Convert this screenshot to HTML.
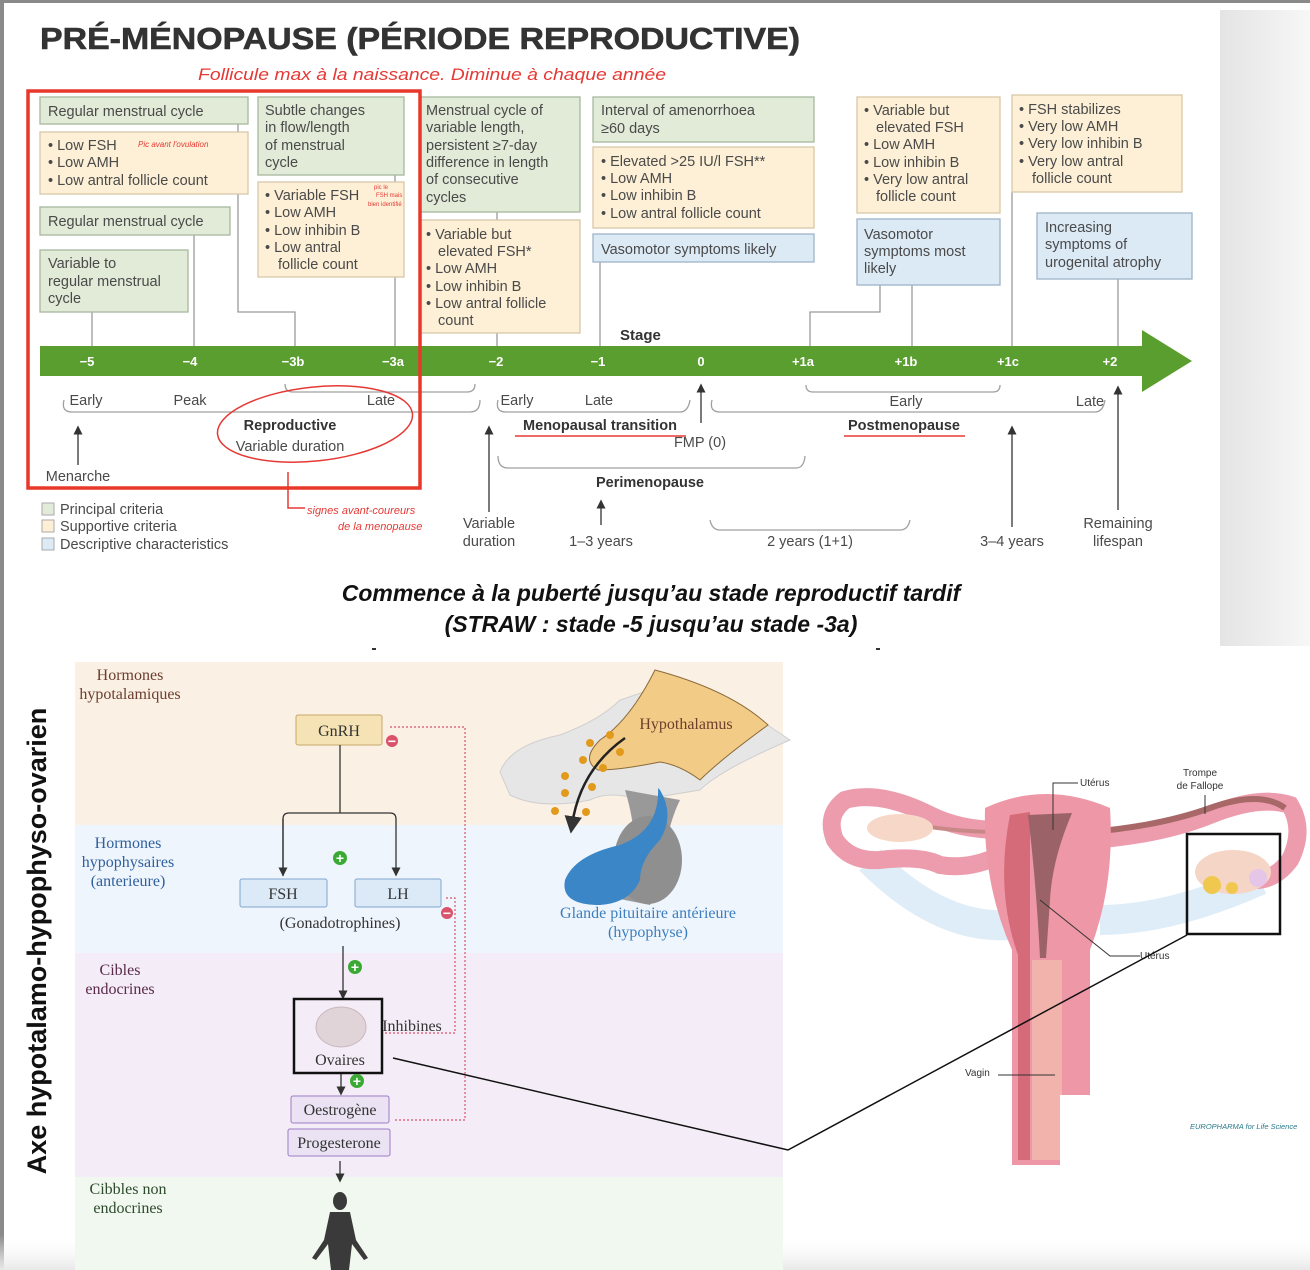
<!DOCTYPE html>
<html><head><meta charset="utf-8"><style>
html,body{margin:0;padding:0;background:#fff;}
svg{display:block;}
.s{font-family:"Liberation Sans",sans-serif;}
.bt{font-family:"Liberation Sans",sans-serif;font-size:14.5px;fill:#4a4a4a;}
.sr{font-family:"Liberation Serif",serif;}
</style></head><body>
<svg width="1310" height="1270" viewBox="0 0 1310 1270" xmlns="http://www.w3.org/2000/svg">
<defs>
<marker id="ah" viewBox="0 0 10 10" refX="5" refY="5" markerWidth="7" markerHeight="7" orient="auto-start-reverse"><path d="M0,0 L10,5 L0,10 z" fill="#333"/></marker>
<linearGradient id="gs" x1="0" x2="1" y1="0" y2="0"><stop offset="0" stop-color="#e4e4e4"/><stop offset="1" stop-color="#f7f7f7"/></linearGradient>
<linearGradient id="gb" x1="0" x2="0" y1="0" y2="1"><stop offset="0" stop-color="#fff" stop-opacity="0"/><stop offset="1" stop-color="#e8e8e8"/></linearGradient>
</defs>
<rect x="0" y="0" width="1310" height="1270" fill="#fff"/>
<rect x="0" y="0" width="1310" height="3" fill="#8a8a8a"/>
<rect x="0" y="0" width="4" height="1270" fill="#8a8a8a"/>
<rect x="1220" y="10" width="90" height="636" fill="url(#gs)"/>
<rect x="0" y="1235" width="1310" height="35" fill="url(#gb)"/>

<text x="40" y="49" class="s" font-size="31" font-weight="bold" fill="#333" stroke="#333" stroke-width="0.6" textLength="760" lengthAdjust="spacingAndGlyphs">PRÉ-MÉNOPAUSE (PÉRIODE REPRODUCTIVE)</text>
<text x="198" y="80" class="s" font-size="17" font-style="italic" fill="#e53935" textLength="468" lengthAdjust="spacingAndGlyphs">Follicule max à la naissance. Diminue à chaque année</text>

<g stroke="#9a9a9a" stroke-width="1.3" fill="none">
<path d="M92,312 V346"/><path d="M194,235 V346"/><path d="M238,124 V312 H295 V346"/>
<path d="M395,175 V346"/><path d="M497,212 V346"/><path d="M600,262 V346"/>
<path d="M880,285 V312 H810 V346"/><path d="M912,285 V346"/><path d="M1012,192 V346"/><path d="M1118,279 V346"/>
</g>

<g stroke-width="1.3">
<rect x="40" y="97" width="208" height="27" fill="#e1ebd8" stroke="#a8b79f"/>
<rect x="40" y="132" width="208" height="62" fill="#fdf0d6" stroke="#d8c8a8"/>
<rect x="40" y="207" width="190" height="28" fill="#e1ebd8" stroke="#a8b79f"/>
<rect x="40" y="250" width="148" height="62" fill="#e1ebd8" stroke="#a8b79f"/>
<rect x="258" y="97" width="146" height="78" fill="#e1ebd8" stroke="#a8b79f"/>
<rect x="258" y="182" width="146" height="95" fill="#fdf0d6" stroke="#d8c8a8"/>
<rect x="420" y="97" width="160" height="115" fill="#e1ebd8" stroke="#a8b79f"/>
<rect x="420" y="220" width="160" height="113" fill="#fdf0d6" stroke="#d8c8a8"/>
<rect x="593" y="97" width="221" height="45" fill="#e1ebd8" stroke="#a8b79f"/>
<rect x="593" y="147" width="221" height="81" fill="#fdf0d6" stroke="#d8c8a8"/>
<rect x="593" y="234" width="221" height="28" fill="#dceaf6" stroke="#9fb4c8"/>
<rect x="857" y="97" width="143" height="116" fill="#fdf0d6" stroke="#d8c8a8"/>
<rect x="857" y="219" width="143" height="66" fill="#dceaf6" stroke="#9fb4c8"/>
<rect x="1012" y="95" width="170" height="97" fill="#fdf0d6" stroke="#d8c8a8"/>
<rect x="1037" y="213" width="155" height="66" fill="#dceaf6" stroke="#9fb4c8"/>
</g>
<g class="bt">
<text x="48" y="116">Regular menstrual cycle</text>
<text x="48" y="150">• Low FSH</text><text x="48" y="167">• Low AMH</text><text x="48" y="185">• Low antral follicle count</text>
<text x="48" y="226">Regular menstrual cycle</text>
<text x="48" y="268">Variable to</text><text x="48" y="286">regular menstrual</text><text x="48" y="303">cycle</text>
<text x="265" y="115">Subtle changes</text><text x="265" y="132">in flow/length</text><text x="265" y="150">of menstrual</text><text x="265" y="167">cycle</text>
<text x="265" y="200">• Variable FSH</text><text x="265" y="217">• Low AMH</text><text x="265" y="235">• Low inhibin B</text><text x="265" y="252">• Low antral</text><text x="278" y="269">follicle count</text>
<text x="426" y="115">Menstrual cycle of</text><text x="426" y="132">variable length,</text><text x="426" y="150">persistent ≥7-day</text><text x="426" y="167">difference in length</text><text x="426" y="184">of consecutive</text><text x="426" y="202">cycles</text>
<text x="426" y="239">• Variable but</text><text x="438" y="256">elevated  FSH*</text><text x="426" y="273">• Low AMH</text><text x="426" y="291">• Low inhibin B</text><text x="426" y="308">• Low antral follicle</text><text x="438" y="325">count</text>
<text x="601" y="115">Interval of amenorrhoea</text><text x="601" y="133">≥60 days</text>
<text x="601" y="166">• Elevated &gt;25 IU/l FSH**</text><text x="601" y="183">• Low AMH</text><text x="601" y="200">• Low inhibin B</text><text x="601" y="218">• Low antral follicle count</text>
<text x="601" y="254">Vasomotor symptoms likely</text>
<text x="864" y="115">• Variable but</text><text x="876" y="132">elevated FSH</text><text x="864" y="149">• Low AMH</text><text x="864" y="167">• Low inhibin B</text><text x="864" y="184">• Very low antral</text><text x="876" y="201">follicle count</text>
<text x="864" y="239">Vasomotor</text><text x="864" y="256">symptoms most</text><text x="864" y="273">likely</text>
<text x="1019" y="114">• FSH stabilizes</text><text x="1019" y="131">• Very low AMH</text><text x="1019" y="148">• Very low inhibin B</text><text x="1019" y="166">• Very low antral</text><text x="1032" y="183">follicle count</text>
<text x="1045" y="232">Increasing</text><text x="1045" y="249">symptoms of</text><text x="1045" y="267">urogenital atrophy</text>
</g>
<text x="138" y="147" class="s" font-size="8" font-style="italic" fill="#e53935">Pic avant l'ovulation</text>
<text x="374" y="189" class="s" font-size="6" fill="#e53935">pic le</text>
<text x="376" y="197" class="s" font-size="6" fill="#e53935">FSH mais</text>
<text x="368" y="206" class="s" font-size="6" fill="#e53935">bien identifié</text>

<text x="620" y="340" class="s" font-size="15" font-weight="bold" fill="#333">Stage</text>
<path d="M40,346 H1142 V330 L1192,361 L1142,392 V376 H40 z" fill="#5a9e2f"/>
<g class="s" font-size="13" font-weight="bold" fill="#fff" text-anchor="middle">
<text x="87" y="366">−5</text><text x="190" y="366">−4</text><text x="293" y="366">−3b</text><text x="393" y="366">−3a</text><text x="496" y="366">−2</text><text x="598" y="366">−1</text><text x="701" y="366">0</text><text x="803" y="366">+1a</text><text x="906" y="366">+1b</text><text x="1008" y="366">+1c</text><text x="1110" y="366">+2</text>
</g>

<g stroke="#a0a0a0" stroke-width="1.3" fill="none">
<path d="M285,384 q0,8 8,8 H467 q8,0 8,-8"/>
<path d="M64,400 q-3,12 8,12 H470 q10,0 10,-12"/>
<path d="M498,400 q-3,12 8,12 H680 q8,0 10,-12"/>
<path d="M712,400 q-3,12 8,12 H1095 q8,0 10,-12"/>
<path d="M806,385 q0,7 7,7 H993 q7,0 7,-7"/>
<path d="M498,456 q0,12 10,12 H796 q8,0 9,-12"/>
<path d="M710,520 q2,10 10,10 H900 q8,0 10,-10"/>
</g>
<g class="bt" text-anchor="middle">
<text x="86" y="405">Early</text><text x="190" y="405">Peak</text><text x="381" y="405">Late</text>
<text x="517" y="405">Early</text><text x="599" y="405">Late</text>
<text x="906" y="406">Early</text><text x="1090" y="406">Late</text>
<text x="290" y="451">Variable duration</text>
<text x="700" y="447">FMP (0)</text>
<text x="78" y="481">Menarche</text>
<text x="489" y="528">Variable</text><text x="489" y="546">duration</text>
<text x="601" y="546">1–3 years</text>
<text x="810" y="546">2 years (1+1)</text>
<text x="1012" y="546">3–4 years</text>
<text x="1118" y="528">Remaining</text><text x="1118" y="546">lifespan</text>
</g>
<g class="s" font-size="14.5" font-weight="bold" fill="#333" text-anchor="middle">
<text x="290" y="430">Reproductive</text>
<text x="600" y="430">Menopausal transition</text>
<text x="904" y="430">Postmenopause</text>
<text x="650" y="487">Perimenopause</text>
</g>
<g stroke="#e53935" stroke-width="1.5" fill="none">
<line x1="515" y1="436" x2="686" y2="436"/><line x1="844" y1="436" x2="965" y2="436"/>
<ellipse cx="315" cy="424" rx="98" ry="37" transform="rotate(-6 315 424)"/>
<path d="M288,472 V508 H305"/>
</g>
<rect x="28" y="91" width="392" height="397" fill="none" stroke="#e8372b" stroke-width="3.5"/>
<text x="307" y="514" class="s" font-size="11" font-style="italic" fill="#e53935">signes avant-coureurs</text>
<text x="338" y="530" class="s" font-size="11" font-style="italic" fill="#e53935">de la menopause</text>
<g stroke="#333" stroke-width="1.3" marker-end="url(#ah)">
<line x1="78" y1="465" x2="78" y2="430"/><line x1="701" y1="423" x2="701" y2="388"/>
<line x1="489" y1="512" x2="489" y2="430"/><line x1="601" y1="525" x2="601" y2="504"/>
<line x1="1012" y1="527" x2="1012" y2="430"/><line x1="1118" y1="510" x2="1118" y2="390"/>
</g>
<rect x="42" y="503" width="12" height="12" fill="#e1ebd8" stroke="#aaa"/>
<rect x="42" y="520" width="12" height="12" fill="#fdf0d6" stroke="#aaa"/>
<rect x="42" y="538" width="12" height="12" fill="#dceaf6" stroke="#aaa"/>
<g class="bt"><text x="60" y="514">Principal criteria</text><text x="60" y="531">Supportive criteria</text><text x="60" y="549">Descriptive characteristics</text></g>

<g class="s" font-size="23" font-weight="bold" font-style="italic" fill="#111" text-anchor="middle">
<text x="651" y="601">Commence à la puberté jusqu’au stade reproductif tardif</text>
<text x="651" y="632">(STRAW : stade -5 jusqu’au stade -3a)</text>
</g>
<rect x="372" y="648" width="4" height="2" fill="#333"/><rect x="876" y="648" width="4" height="2" fill="#333"/>

<rect x="75" y="662" width="708" height="163" fill="#fbf0e4"/>
<rect x="75" y="825" width="708" height="128" fill="#eff5fc"/>
<rect x="75" y="953" width="708" height="224" fill="#f4edf7"/>
<rect x="75" y="1177" width="708" height="93" fill="#f1f8ef"/>
<text transform="translate(46,941) rotate(-90)" class="s" font-size="27" font-weight="bold" fill="#111" text-anchor="middle">Axe hypotalamo-hypophyso-ovarien</text>
<g class="sr" font-size="16" text-anchor="middle">
<text x="130" y="680" fill="#6b3e2e">Hormones</text><text x="130" y="699" fill="#6b3e2e">hypotalamiques</text>
<text x="128" y="848" fill="#2e5f9e">Hormones</text><text x="128" y="867" fill="#2e5f9e">hypophysaires</text><text x="128" y="886" fill="#2e5f9e">(anterieure)</text>
<text x="120" y="975" fill="#5a2a4a">Cibles</text><text x="120" y="994" fill="#5a2a4a">endocrines</text>
<text x="128" y="1194" fill="#2e4a2e">Cibbles non</text><text x="128" y="1213" fill="#2e4a2e">endocrines</text>
</g>
<g stroke="#d9536a" stroke-width="1.2" fill="none" stroke-dasharray="2,2">
<path d="M390,727 H465 V1120 H395"/>
<path d="M446,898 H455 V1033 H383"/>
</g>
<rect x="296" y="715" width="86" height="30" rx="2" fill="#f5e3b5" stroke="#c8a96a"/>
<g stroke="#333" stroke-width="1.3" fill="none">
<path d="M340,745 V813"/>
<path d="M283,876 V819 q0,-6 6,-6 H390 q6,0 6,6 V872" marker-end="url(#ah)"/>
<path d="M283,819 V872" marker-end="url(#ah)"/>
<path d="M343,946 V995" marker-end="url(#ah)"/>
<path d="M341,1073 V1091" marker-end="url(#ah)"/>
<path d="M340,1161 V1178" marker-end="url(#ah)"/>
</g>
<rect x="240" y="879" width="87" height="28" rx="2" fill="#dceaf7" stroke="#7fa6cf"/>
<rect x="355" y="879" width="86" height="28" rx="2" fill="#dceaf7" stroke="#7fa6cf"/>
<rect x="291" y="1096" width="98" height="27" rx="2" fill="#ebe3f3" stroke="#9b7cc4"/>
<rect x="288" y="1129" width="102" height="27" rx="2" fill="#ebe3f3" stroke="#9b7cc4"/>
<g class="sr" font-size="16" fill="#333" text-anchor="middle">
<text x="339" y="736">GnRH</text><text x="283" y="899">FSH</text><text x="398" y="899">LH</text>
<text x="340" y="928">(Gonadotrophines)</text>
<text x="340" y="1065">Ovaires</text><text x="412" y="1031">Inhibines</text>
<text x="340" y="1115">Oestrogène</text><text x="339" y="1148">Progesterone</text>
</g>
<ellipse cx="341" cy="1027" rx="25" ry="20" fill="#e0d4d8" stroke="#c9b8be"/>
<rect x="294" y="999" width="88" height="74" fill="none" stroke="#111" stroke-width="2.5"/>
<g font-family="Liberation Sans,sans-serif" font-size="14" font-weight="bold" fill="#fff" text-anchor="middle">
<circle cx="340" cy="858" r="7" fill="#3aaa35"/><text x="340" y="863">+</text>
<circle cx="355" cy="967" r="7" fill="#3aaa35"/><text x="355" y="972">+</text>
<circle cx="357" cy="1081" r="7" fill="#3aaa35"/><text x="357" y="1086">+</text>
<circle cx="392" cy="741" r="6" fill="#d9536a"/><text x="392" y="746">−</text>
<circle cx="447" cy="913" r="6" fill="#d9536a"/><text x="447" y="918">−</text>
</g>
<g fill="#3a3a3a">
<ellipse cx="340" cy="1201" rx="7" ry="9"/>
<path d="M330,1212 H350 L356,1240 L368,1258 L364,1260 L352,1244 L349,1270 H331 L328,1244 L316,1260 L312,1258 L324,1240 z"/>
</g>
<!-- hypothalamus illustration -->
<path d="M500,772 Q510,745 560,735 Q600,720 620,700 L650,690 Q700,710 760,720 L790,740 Q720,770 700,790 L640,800 Q610,790 590,800 Q540,810 510,795 z" fill="#e6e6e6" stroke="#cfcfcf"/>
<path d="M655,670 Q730,690 768,725 Q720,760 700,780 Q680,765 660,762 Q620,770 598,770 Q580,760 600,740 Q630,720 655,670 z" fill="#f2cc86" stroke="#8a6a3a"/>
<path d="M625,790 Q640,840 630,870 Q615,900 600,895 L650,905 Q670,880 665,850 Q670,820 680,800 z" fill="#999"/>
<ellipse cx="648" cy="860" rx="34" ry="44" fill="#8f8f8f"/>
<path d="M658,788 Q660,830 620,845 Q575,855 565,880 Q560,905 600,905 Q630,903 640,880 Q640,860 660,840 Q675,815 660,790 z" fill="#3b86c6"/>
<g fill="#e29a1c"><circle cx="610" cy="735" r="4"/><circle cx="590" cy="743" r="4"/><circle cx="620" cy="752" r="4"/><circle cx="583" cy="760" r="4"/><circle cx="603" cy="768" r="4"/><circle cx="565" cy="776" r="4"/><circle cx="592" cy="787" r="4"/><circle cx="565" cy="793" r="4"/><circle cx="555" cy="811" r="4"/><circle cx="586" cy="812" r="4"/></g>
<path d="M625,738 Q580,770 572,825" stroke="#222" stroke-width="2.5" fill="none" marker-end="url(#ah)"/>
<text x="686" y="729" class="sr" font-size="16" fill="#6b3e2e" text-anchor="middle">Hypothalamus</text>
<text x="648" y="918" class="sr" font-size="16" fill="#3b7fc0" text-anchor="middle">Glande pituitaire antérieure</text>
<text x="648" y="937" class="sr" font-size="16" fill="#3b7fc0" text-anchor="middle">(hypophyse)</text>

<!-- uterus illustration -->
<g>
<path d="M870,860 Q940,930 1010,925 M1100,920 Q1170,920 1260,880" stroke="#d6e8f5" stroke-width="30" fill="none" opacity=".8"/>
<path d="M1000,830 Q960,830 930,815 Q880,790 845,800 Q825,815 835,840 Q850,862 880,860 Q920,855 940,865 Q970,870 1000,855" fill="none" stroke="#ec9cad" stroke-width="18"/>
<path d="M1090,840 Q1160,835 1210,815 Q1260,795 1290,805 Q1305,830 1290,860 Q1275,880 1255,880" fill="none" stroke="#ec9cad" stroke-width="18"/>
<path d="M1090,832 Q1160,826 1210,808 Q1260,790 1285,808" fill="none" stroke="#a86868" stroke-width="6"/>
<path d="M885,818 Q930,830 990,832" fill="none" stroke="#c98888" stroke-width="4"/>
<ellipse cx="900" cy="828" rx="33" ry="14" fill="#f7d8c8"/>
<ellipse cx="1233" cy="872" rx="38" ry="22" fill="#f5d5c5"/>
<circle cx="1212" cy="885" r="9" fill="#f0c850"/><circle cx="1232" cy="888" r="6" fill="#f0c850"/><circle cx="1258" cy="878" r="9" fill="#e6c6e8"/>
<path d="M985,808 Q1045,780 1110,808 Q1115,885 1090,950 L1090,1165 L1012,1165 L1012,950 Q983,885 985,808 z" fill="#ee97a6"/>
<path d="M1010,815 L1030,812 L1030,1160 L1018,1160 L1018,955 Q995,890 1010,815 z" fill="#d56a78"/>
<path d="M1028,815 L1072,813 Q1052,860 1050,900 L1046,958 L1040,958 Q1036,880 1028,815 z" fill="#9b6367"/>
<rect x="1032" y="960" width="30" height="200" fill="#f3b3ad"/>
<rect x="1060" y="1095" width="40" height="75" fill="#fff"/>
</g>
<g stroke="#333" stroke-width="1" fill="none">
<path d="M1078,783 H1053 V830"/><path d="M1205,795 V814"/><path d="M1040,900 L1110,956 H1140"/><path d="M998,1075 H1055"/>
</g>
<g class="s" font-size="10" fill="#333">
<text x="1080" y="786">Utérus</text>
<text x="1200" y="776" text-anchor="middle">Trompe</text><text x="1200" y="789" text-anchor="middle">de Fallope</text>
<text x="1140" y="959">Utérus</text><text x="965" y="1076">Vagin</text>
</g>
<text x="1190" y="1129" class="s" font-size="7.5" font-style="italic" fill="#2a7a8a">EUROPHARMA for Life Science</text>
<rect x="1187" y="834" width="93" height="100" fill="none" stroke="#111" stroke-width="2.5"/>
<path d="M393,1058 L788,1150 L1187,935" stroke="#111" stroke-width="1.5" fill="none"/>
</svg>
</body></html>
